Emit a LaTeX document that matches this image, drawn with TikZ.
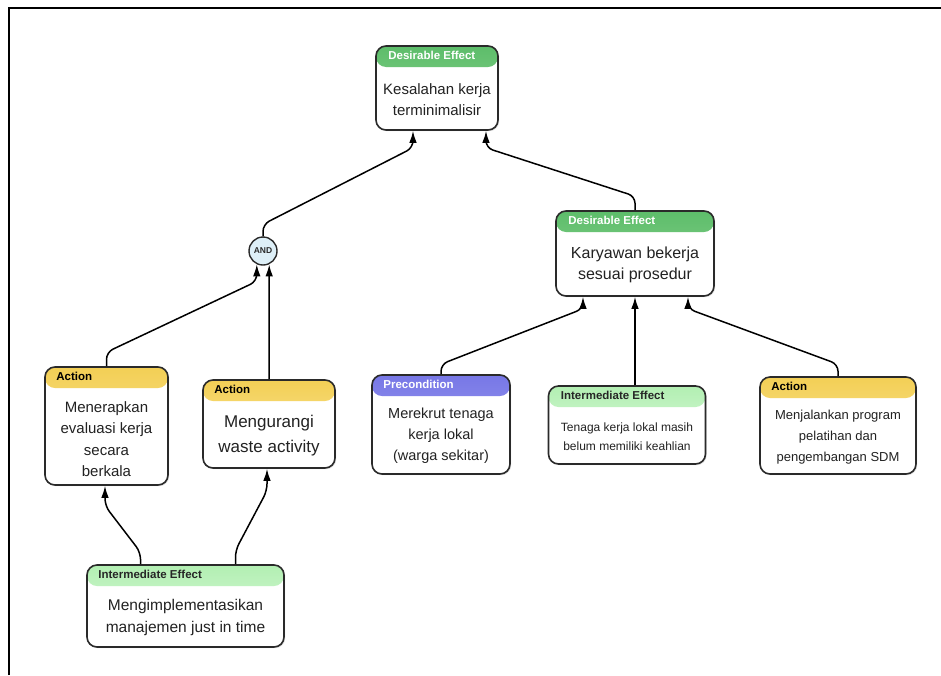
\documentclass[tikz,border=0pt]{standalone}
\usepackage{fontspec}
\setmainfont{Liberation Sans}
\usetikzlibrary{arrows.meta,shadows}

\definecolor{edge}{HTML}{2A2A2A}
\definecolor{bodytext}{HTML}{222222}
\definecolor{desTop}{HTML}{5DBD6A}
\definecolor{desBot}{HTML}{92D596}
\definecolor{actTop}{HTML}{F3CF55}
\definecolor{actBot}{HTML}{FBE9A6}
\definecolor{preTop}{HTML}{7777E6}
\definecolor{preBot}{HTML}{A9A9F3}
\definecolor{intTop}{HTML}{B2EFB2}
\definecolor{intBot}{HTML}{E6FBE6}
\definecolor{andFill}{HTML}{DDEFF7}

\tikzset{
  card/.style={rectangle, draw=edge, line width=1.6pt, rounded corners=10pt,
    fill=white, inner sep=0pt,
    drop shadow={opacity=0.25, shadow xshift=1.2pt, shadow yshift=-1.2pt}},
  header/.style 2 args={path picture={
    \shade[top color=#1, bottom color=#2]
      (path picture bounding box.north west) rectangle
      ([yshift=-21pt]path picture bounding box.north east);}},
  desirable/.style={card, header={desTop}{desBot}},
  action/.style={card, header={actTop}{actBot}},
  precond/.style={card, header={preTop}{preBot}},
  interm/.style={card, header={intTop}{intBot}},
  title/.style={anchor=west, inner sep=0pt, font=\bfseries\fontsize{11.5}{14}\selectfont},
  body/.style={align=center, inner sep=0pt, text=bodytext},
  conn/.style={draw=black, line width=1.5pt, rounded corners=7pt,
    -{Latex[length=12pt,width=7.5pt]}},
  andgate/.style={circle, draw=edge, line width=1.4pt, fill=andFill,
    minimum size=28pt, inner sep=0pt,
    font=\bfseries\fontsize{8.5}{9}\selectfont, text=edge},
}

\begin{document}
\begin{tikzpicture}[x=1pt,y=-1pt]
  \useasboundingbox (0,0) rectangle (941,675);
  \fill[white] (0,0) rectangle (941,675);

  % frame lines
  \draw[line width=2pt, black] (9,675) -- (9,8) -- (941,8);

  % boxes
  \node[desirable, minimum width=122pt, minimum height=84pt] (top) at (437,88) {};
  \node[desirable, minimum width=158pt, minimum height=85pt] (de2) at (635,253.5) {};
  \node[andgate] (andg) at (263,251) {AND};
  \node[action, minimum width=123pt, minimum height=118pt] (act1) at (106.5,426) {};
  \node[action, minimum width=132pt, minimum height=88pt] (act2) at (269,424) {};
  \node[precond, minimum width=138pt, minimum height=99pt] (pre) at (441,424.5) {};
  \node[interm, minimum width=157pt, minimum height=78pt] (iem) at (627,425) {};
  \node[action, minimum width=156pt, minimum height=97pt] (act3) at (838,425.5) {};
  \node[interm, minimum width=197pt, minimum height=82pt] (ieb) at (185.5,606) {};

  % header titles
  \node[title, text=white] (topT) at ([xshift=13pt,yshift=-10.5pt]top.north west) {Desirable Effect};
  \node[title, text=white] (de2T) at ([xshift=13pt,yshift=-10.5pt]de2.north west) {Desirable Effect};
  \node[title, text=black] (act1T) at ([xshift=12pt,yshift=-10.5pt]act1.north west) {Action};
  \node[title, text=black] (act2T) at ([xshift=12pt,yshift=-10.5pt]act2.north west) {Action};
  \node[title, text=white] (preT) at ([xshift=12pt,yshift=-10.5pt]pre.north west) {Precondition};
  \node[title, text=black!85] (iemT) at ([xshift=13pt,yshift=-10.5pt]iem.north west) {Intermediate Effect};
  \node[title, text=black] (act3T) at ([xshift=12pt,yshift=-10.5pt]act3.north west) {Action};
  \node[title, text=black!85] (iebT) at ([xshift=12pt,yshift=-10.5pt]ieb.north west) {Intermediate Effect};

  % body texts
  \node[body, font=\fontsize{15}{21}\selectfont] (topB) at ([yshift=-11.5pt]top.center) {Kesalahan kerja\\terminimalisir};
  \node[body, font=\fontsize{16}{21}\selectfont] (de2B) at ([yshift=-11.5pt]de2.center) {Karyawan bekerja\\sesuai prosedur};
  \node[body, font=\fontsize{15}{21.5}\selectfont] (act1B) at ([yshift=-13pt]act1.center) {Menerapkan\\evaluasi kerja\\secara\\berkala};
  \node[body, font=\fontsize{17}{25}\selectfont] (act2B) at ([yshift=-11.5pt]act2.center) {Mengurangi\\waste activity};
  \node[body, font=\fontsize{14.5}{21}\selectfont] (preB) at ([yshift=-11.5pt]pre.center) {Merekrut tenaga\\kerja lokal\\(warga sekitar)};
  \node[body, font=\fontsize{12}{19}\selectfont] (iemB) at ([yshift=-11.5pt]iem.center) {Tenaga kerja lokal masih\\belum memiliki keahlian};
  \node[body, font=\fontsize{13}{21}\selectfont] (act3B) at ([yshift=-11.5pt]act3.center) {Menjalankan program\\pelatihan dan\\pengembangan SDM};
  \node[body, font=\fontsize{15.5}{22}\selectfont] (iebB) at ([yshift=-11.5pt]ieb.center) {Mengimplementasikan\\manajemen just in time};

  % connectors
  \draw[conn] (andg.north) -- ++(0,-12) -- ([xshift=-24pt,yshift=-17pt]top.south) -- ([xshift=-24pt]top.south);
  \draw[conn] (de2.north) -- ++(0,-14) -- ([xshift=49pt,yshift=-17pt]top.south) -- ([xshift=49pt]top.south);
  \draw[conn] (act1.north) -- ++(0,-14) -- ([yshift=-17pt]andg.-115) -- (andg.-115);
  \draw[conn] (act2.north) -- (andg.-65);
  \draw[conn] ([xshift=-45pt]ieb.north) -- ++(0,-12) -- ([xshift=-1.5pt,yshift=-20pt]act1.south) -- ([xshift=-1.5pt]act1.south);
  \draw[conn] ([xshift=50pt]ieb.north) -- ++(0,-14) -- ([xshift=-2pt,yshift=-22pt]act2.south) -- ([xshift=-2pt]act2.south);
  \draw[conn] (pre.north) -- ++(0,-10) -- ([xshift=-52pt,yshift=-12pt]de2.south) -- ([xshift=-52pt]de2.south);
  \draw[conn] (iem.north -| de2.south) -- (de2.south);
  \draw[conn] (act3.north) -- ++(0,-12) -- ([xshift=53pt,yshift=-12pt]de2.south) -- ([xshift=53pt]de2.south);
\end{tikzpicture}
\end{document}
